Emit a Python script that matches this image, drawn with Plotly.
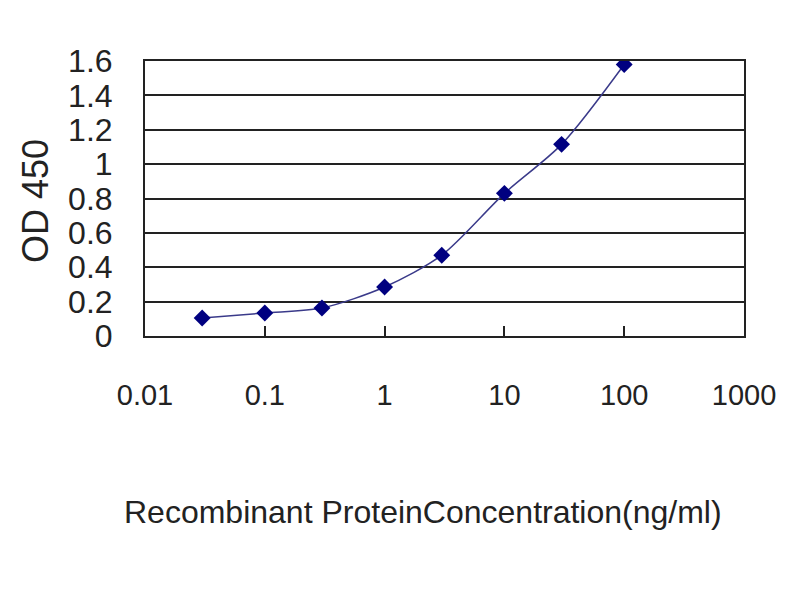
import plotly.graph_objects as go

# concentracao (ng/ml) e leitura OD 450
concentracao = [0.03, 0.1, 0.3, 1, 3, 10, 30, 100]
od_450 = [0.105, 0.134, 0.163, 0.285, 0.47, 0.83, 1.115, 1.58]

x_ticks = [0.01, 0.1, 1, 10, 100, 1000]
x_tick_labels = ["0.01", "0.1", "1", "10", "100", "1000"]
y_ticks = [0, 0.2, 0.4, 0.6, 0.8, 1, 1.2, 1.4, 1.6]
y_tick_labels = ["0", "0.2", "0.4", "0.6", "0.8", "1", "1.2", "1.4", "1.6"]

fonte = "Liberation Sans, Arial"

fig = go.Figure()
fig.add_trace(go.Scatter(
    x=concentracao, y=od_450,
    mode='lines+markers',
    line=dict(color='#3a3a8a', width=1.5, shape='spline', smoothing=0.8),
    marker=dict(symbol='diamond', size=13, color='#000080'),
    showlegend=False
))

# margens descontam os 8px de margem do body da pagina
fig.update_layout(
    width=800, height=600,
    margin=dict(l=137, r=64, t=53, b=272),
    paper_bgcolor='white', plot_bgcolor='white',
    xaxis=dict(
        type='log', range=[-2, 3], automargin=False,
        tickvals=x_ticks, ticktext=x_tick_labels,
        ticks='inside', ticklen=10, tickwidth=2, tickcolor='#222',
        showgrid=False, zeroline=False,
        showline=True, linecolor='#222', linewidth=2, mirror=True,
        tickfont=dict(family=fonte, size=29, color='#222'),
        ticklabelstandoff=32
    ),
    yaxis=dict(
        range=[0, 1.6], automargin=False,
        tickvals=y_ticks, ticktext=y_tick_labels,
        ticks='', showgrid=True, gridcolor='#222', gridwidth=2,
        zeroline=False,
        showline=True, linecolor='#222', linewidth=2, mirror=True,
        tickfont=dict(family=fonte, size=32, color='#222'),
        ticklabelstandoff=24
    ),
    annotations=[
        dict(text='Recombinant ProteinConcentration(ng/ml)',
             xref='paper', yref='paper', x=0.464, y=-0.64,
             xanchor='center', yanchor='middle', showarrow=False,
             font=dict(family=fonte, size=32, color='#222')),
        dict(text='OD 450', textangle=-90,
             xref='paper', yref='paper', x=-0.184, y=0.49,
             xanchor='center', yanchor='middle', showarrow=False,
             font=dict(family=fonte, size=36, color='#222')),
    ]
)

fig.write_html("out.html")
